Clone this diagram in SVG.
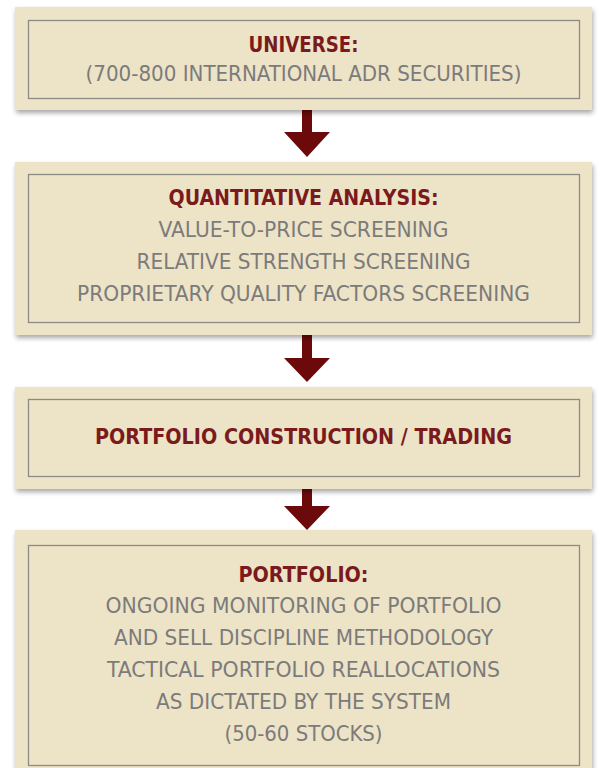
<svg xmlns="http://www.w3.org/2000/svg" width="601" height="768" viewBox="0 0 601 768">
<defs>
<filter id="sh" x="-5%" y="-10%" width="110%" height="130%">
<feGaussianBlur in="SourceAlpha" stdDeviation="2.5"/>
<feOffset dx="1" dy="3" result="b"/>
<feComponentTransfer><feFuncA type="linear" slope="0.35"/></feComponentTransfer>
<feMerge><feMergeNode/><feMergeNode in="SourceGraphic"/></feMerge>
</filter>
</defs>
<style>
.outer{fill:#EDE3C7;}
.inner{fill:none;stroke:#8C8A84;stroke-width:1.3;}
.t{font-family:"DejaVu Sans Condensed","DejaVu Sans",sans-serif;font-stretch:condensed;font-size:21px;text-anchor:middle;}
.h{fill:#7A1A1C;font-weight:bold;}
.b{fill:#7C7B7B;}
.arr{fill:#6C0A0B;}
</style>
<rect width="601" height="768" fill="#FFFFFF"/>
<g id="connectors">
<polygon class="arr" points="302,110 312,110 312,132 330,132 307,157 284,132 302,132"/>
<polygon class="arr" points="302,335 312,335 312,358 330,358 307,382 284,358 302,358"/>
<polygon class="arr" points="302,489 312,489 312,506 330,506 307,530 284,506 302,506"/>
</g>
<g id="universe">
<rect class="outer" x="15" y="7" width="577" height="103" filter="url(#sh)"/>
<rect class="inner" x="28.5" y="20.5" width="551" height="78"/>
<text class="t h" x="303.5" y="52" textLength="110" lengthAdjust="spacingAndGlyphs">UNIVERSE:</text>
<text class="t b" x="303.5" y="81" textLength="436" lengthAdjust="spacingAndGlyphs">(700-800 INTERNATIONAL ADR SECURITIES)</text>
</g>
<g id="quant">
<rect class="outer" x="15" y="162" width="577" height="173" filter="url(#sh)"/>
<rect class="inner" x="28.5" y="174.5" width="551" height="148"/>
<text class="t h" x="303.5" y="205" textLength="270" lengthAdjust="spacingAndGlyphs">QUANTITATIVE ANALYSIS:</text>
<text class="t b" x="303.5" y="237" textLength="290" lengthAdjust="spacingAndGlyphs">VALUE-TO-PRICE SCREENING</text>
<text class="t b" x="303.5" y="269" textLength="334" lengthAdjust="spacingAndGlyphs">RELATIVE STRENGTH SCREENING</text>
<text class="t b" x="303.5" y="301" textLength="453" lengthAdjust="spacingAndGlyphs">PROPRIETARY QUALITY FACTORS SCREENING</text>
</g>
<g id="construction">
<rect class="outer" x="15" y="387" width="577" height="102" filter="url(#sh)"/>
<rect class="inner" x="28.5" y="399.5" width="551" height="77"/>
<text class="t h" x="303.5" y="444" textLength="417" lengthAdjust="spacingAndGlyphs">PORTFOLIO CONSTRUCTION / TRADING</text>
</g>
<g id="portfolio">
<rect class="outer" x="15" y="530" width="577" height="245" filter="url(#sh)"/>
<rect class="inner" x="28.5" y="545.5" width="551" height="220"/>
<text class="t h" x="303.5" y="582" textLength="130" lengthAdjust="spacingAndGlyphs">PORTFOLIO:</text>
<text class="t b" x="303.5" y="613" textLength="396" lengthAdjust="spacingAndGlyphs">ONGOING MONITORING OF PORTFOLIO</text>
<text class="t b" x="303.5" y="645" textLength="379" lengthAdjust="spacingAndGlyphs">AND SELL DISCIPLINE METHODOLOGY</text>
<text class="t b" x="303.5" y="677" textLength="393" lengthAdjust="spacingAndGlyphs">TACTICAL PORTFOLIO REALLOCATIONS</text>
<text class="t b" x="303.5" y="709" textLength="295" lengthAdjust="spacingAndGlyphs">AS DICTATED BY THE SYSTEM</text>
<text class="t b" x="303.5" y="741" textLength="158" lengthAdjust="spacingAndGlyphs">(50-60 STOCKS)</text>
</g>
</svg>
